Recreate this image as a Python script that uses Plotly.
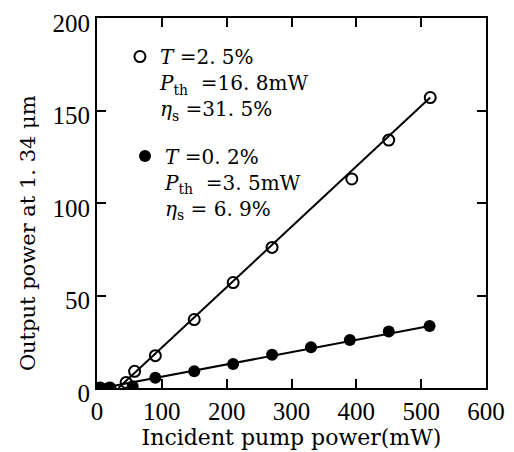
import plotly.graph_objects as go

# Data
open_x = [5, 20, 45, 58, 90, 150, 210, 270, 393, 450, 514]
open_y = [0, 0, 3, 9, 17.5, 37, 57, 76, 113, 134, 157]
filled_x = [5, 18, 55, 90, 150, 210, 270, 330, 390, 450, 513]
filled_y = [0, 0, 1, 5.5, 9, 13, 18, 22, 26, 30.5, 33.5]
open_fit_x = [33, 514]
open_fit_y = [0, 157]
filled_fit_x = [8, 513]
filled_fit_y = [0, 33.5]

x_ticks = [0, 100, 200, 300, 400, 500, 600]
y_ticks = [0, 50, 100, 150, 200]

x_title = "Incident pump power(mW)"
y_title = "Output power at 1. 34 μm"
open_label = "<i>T</i> =2. 5%<br><i>P</i><sub>th</sub>\u00a0 =16. 8mW<br><i>η</i><sub>s</sub> =31. 5%"
filled_label = "<i>T</i> =0. 2%<br><i>P</i><sub>th</sub>\u00a0 =3. 5mW<br><i>η</i><sub>s</sub> = 6. 9%"

TICK_FONT = "Liberation Serif"
TEXT_FONT = "DejaVu Serif"
BLACK = "black"

fig = go.Figure()
fig.add_trace(go.Scatter(x=open_fit_x, y=open_fit_y, mode="lines",
                         line=dict(color=BLACK, width=2), showlegend=False))
fig.add_trace(go.Scatter(x=filled_fit_x, y=filled_fit_y, mode="lines",
                         line=dict(color=BLACK, width=2), showlegend=False))
fig.add_trace(go.Scatter(x=open_x, y=open_y, mode="markers", name=open_label,
                         legend="legend",
                         marker=dict(symbol="circle-open", size=11, color=BLACK,
                                     line=dict(width=2, color=BLACK))))
fig.add_trace(go.Scatter(x=filled_x, y=filled_y, mode="markers", name=filled_label,
                         legend="legend2",
                         marker=dict(symbol="circle", size=12, color=BLACK)))

axis_common = dict(showline=True, linecolor=BLACK, linewidth=2, mirror="ticks",
                   ticks="inside", ticklen=9, tickwidth=2, tickcolor=BLACK,
                   showgrid=False, zeroline=False, automargin=False,
                   ticklabeloverflow="allow",
                   tickfont=dict(family=TICK_FONT, size=25, color=BLACK))

fig.update_xaxes(range=[0, 600], tickvals=x_ticks,
                 title=dict(text=x_title, standoff=4,
                            font=dict(family=TEXT_FONT, size=22, color=BLACK)),
                 **axis_common)
fig.update_yaxes(range=[0, 200], tickvals=y_ticks, ticklabelshift=5,
                 **axis_common)

legend_common = dict(xanchor="left", yanchor="top", valign="top",
                     bgcolor="rgba(0,0,0,0)", borderwidth=0,
                     font=dict(family=TEXT_FONT, size=20, color=BLACK))

fig.update_layout(
    width=514, height=452,
    margin=dict(l=89, r=36, t=10, b=72),
    plot_bgcolor="white", paper_bgcolor="white",
    font=dict(family=TEXT_FONT, color=BLACK),
    legend=dict(x=0.059, y=0.9485, **legend_common),
    legend2=dict(x=0.072, y=0.68, **legend_common),
    annotations=[dict(text=y_title, textangle=-90, x=-0.177, y=0.419,
                      xref="paper", yref="paper", xanchor="center", yanchor="middle",
                      showarrow=False,
                      font=dict(family=TEXT_FONT, size=21, color=BLACK))],
)

fig.write_html("out.html")
